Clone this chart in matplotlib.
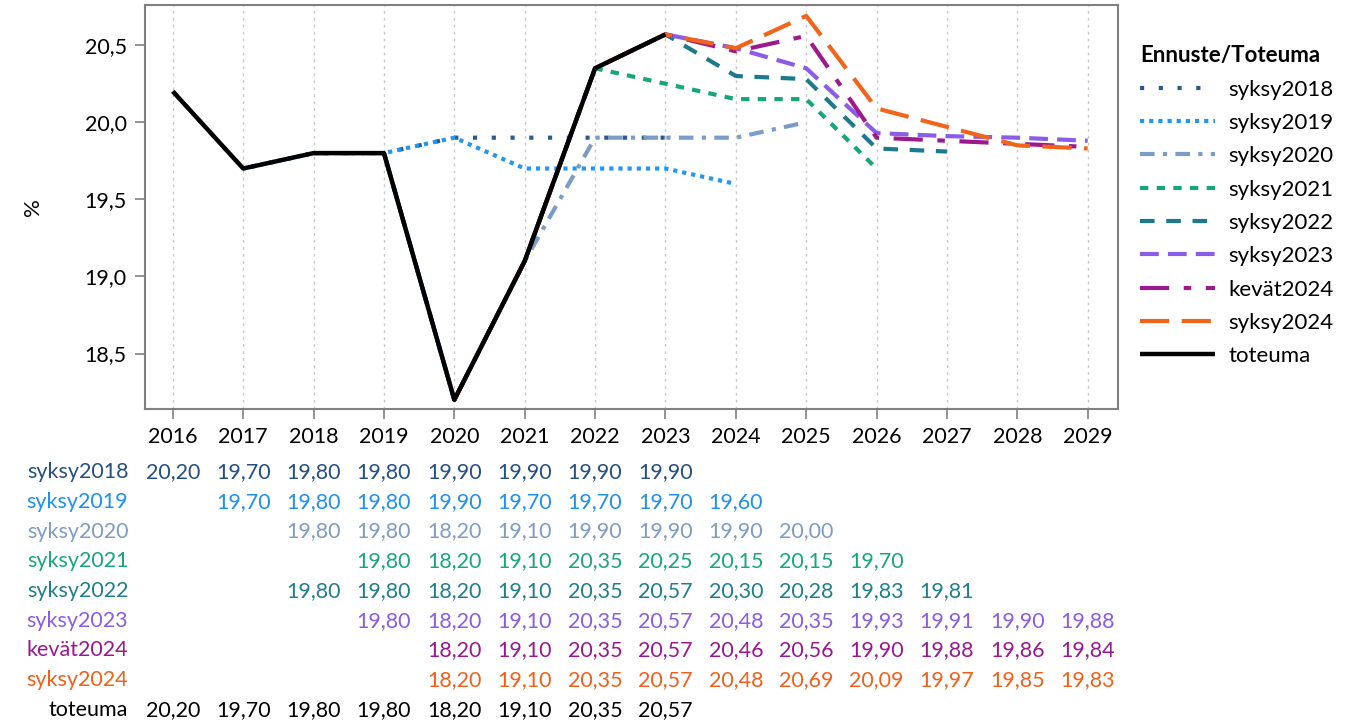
import numpy as np
import matplotlib
matplotlib.use("Agg")
import matplotlib.pyplot as plt
import matplotlib.transforms as mtransforms
from matplotlib.ticker import FuncFormatter

plt.rcParams['font.family'] = ['Lato', 'DejaVu Sans']

years = list(range(2016, 2030))

# values per forecast, starting from the first year in the table
syksy2018 = [20.20, 19.70, 19.80, 19.80, 19.90, 19.90, 19.90, 19.90]
syksy2019 = [19.70, 19.80, 19.80, 19.90, 19.70, 19.70, 19.70, 19.60]
syksy2020 = [19.80, 19.80, 18.20, 19.10, 19.90, 19.90, 19.90, 20.00]
syksy2021 = [19.80, 18.20, 19.10, 20.35, 20.25, 20.15, 20.15, 19.70]
syksy2022 = [19.80, 19.80, 18.20, 19.10, 20.35, 20.57, 20.30, 20.28, 19.83, 19.81]
syksy2023 = [19.80, 18.20, 19.10, 20.35, 20.57, 20.48, 20.35, 19.93, 19.91, 19.90, 19.88]
kevat2024 = [18.20, 19.10, 20.35, 20.57, 20.46, 20.56, 19.90, 19.88, 19.86, 19.84]
syksy2024 = [18.20, 19.10, 20.35, 20.57, 20.48, 20.69, 20.09, 19.97, 19.85, 19.83]
toteuma = [20.20, 19.70, 19.80, 19.80, 18.20, 19.10, 20.35, 20.57]

series = [
    ("syksy2018", 2016, syksy2018, "#2B5A8C", (0, (1, 3.5))),
    ("syksy2019", 2017, syksy2019, "#2196F3", (0, (1, 1.2))),
    ("syksy2020", 2018, syksy2020, "#7A9CC6", (0, (3.5, 2, 1, 2))),
    ("syksy2021", 2019, syksy2021, "#16A67C", (0, (2, 2))),
    ("syksy2022", 2018, syksy2022, "#1C7A8C", (0, (3.5, 2.8))),
    ("syksy2023", 2019, syksy2023, "#8A5CE8", (0, (4.5, 2.2))),
    ("kevät2024", 2020, kevat2024, "#9C1A8E", (0, (7, 3.5, 1.8, 3.5))),
    ("syksy2024", 2020, syksy2024, "#F26419", (0, (7, 3))),
    ("toteuma", 2016, toteuma, "black", "-"),
]
table_colors = ["#254F80", "#1E90EE", "#7F9CC2", "#17A67E", "#1F7E8E",
                "#8A5CE6", "#9B1790", "#F0601A", "black"]

fig = plt.figure(figsize=(13.65, 7.24), dpi=100)
ax = fig.add_axes([0.106, 0.435, 0.713, 0.558])

for i, (name, start, vals, col, ls) in enumerate(series):
    xs = list(range(start, start + len(vals)))
    lw = 3 if name != "toteuma" else 3.2
    ax.plot(xs, vals, color=col, linestyle=ls, linewidth=lw, label=name,
            zorder=3 + i, solid_capstyle='butt', dash_capstyle='butt')

ax.set_xlim(2015.6, 2029.43)
ax.set_ylim(18.14, 20.76)
ax.set_xticks(years)
ax.set_yticks([18.5, 19.0, 19.5, 20.0, 20.5])
ax.yaxis.set_major_formatter(FuncFormatter(lambda v, p: f"{v:.1f}".replace(".", ",")))
ax.tick_params(labelsize=15.5, length=7, width=1.2, color="#808080", pad=6)
ax.grid(axis='x', linestyle=(0, (2, 3)), color="#c8c8c8", linewidth=1)
for s in ax.spines.values():
    s.set_color("#808080")
    s.set_linewidth(1.5)
ax.set_ylabel("%", fontsize=16, labelpad=30)

leg = ax.legend(loc='upper left', bbox_to_anchor=(1.002, 0.95), frameon=False,
                fontsize=16, title="Ennuste/Toteuma", handlelength=3.4,
                handletextpad=0.6, labelspacing=0.6, alignment='left')
leg.get_title().set_fontweight('bold')
leg.get_title().set_fontsize(16)

# table under the chart
trans = mtransforms.blended_transform_factory(ax.transData, fig.transFigure)
row_y0 = 472
row_dy = 29.75
for r, (name, start, vals, col, ls) in enumerate(series):
    yf = 1 - (row_y0 + r * row_dy) / 724
    fig.text(0.094, yf, name, ha='right', va='center', fontsize=15.5,
             color=table_colors[r])
    for j, v in enumerate(vals):
        fig.text(start + j, yf, f"{v:.2f}".replace(".", ","), transform=trans,
                 ha='center', va='center', fontsize=15.5, color=table_colors[r])

fig.savefig("out.png", dpi=100)
